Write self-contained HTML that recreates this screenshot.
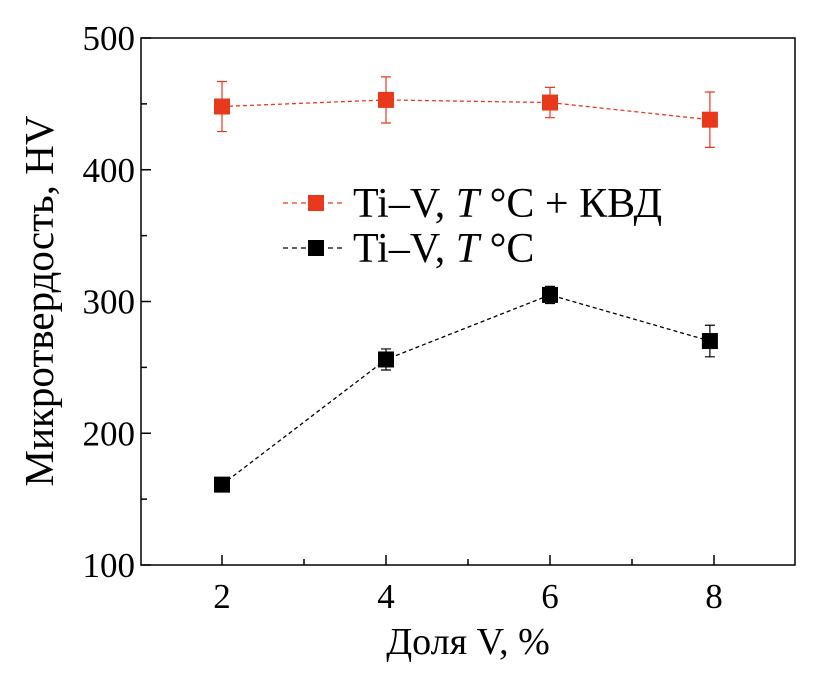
<!DOCTYPE html>
<html><head><meta charset="utf-8"><style>
html,body{margin:0;padding:0;background:#fff;}
svg{display:block;font-family:"Liberation Serif",serif;}
</style></head><body>
<svg id="chart" width="835" height="676" viewBox="0 0 835 676" xmlns="http://www.w3.org/2000/svg">
<g id="axes"></g>
<g id="series"></g>
<g id="legend">
  <line x1="283" y1="203" x2="345" y2="203" stroke="#e8391d" stroke-width="1.3" stroke-dasharray="5,4"/>
  <rect x="308" y="195" width="16" height="16" fill="#e8391d"/>
  <text x="353" y="217" font-size="42">Ti–V, <tspan font-style="italic">T</tspan> °C + КВД</text>
  <line x1="283" y1="248" x2="345" y2="248" stroke="#000" stroke-width="1.3" stroke-dasharray="5,4"/>
  <rect x="308" y="240" width="16" height="16" fill="#000"/>
  <text x="353" y="262" font-size="42">Ti–V, <tspan font-style="italic">T</tspan> °C</text>
</g>
<text x="468" y="654" font-size="38" text-anchor="middle">Доля V, %</text>
<text transform="translate(53,301) rotate(-90)" font-size="41" text-anchor="middle">Микротвердость, HV</text>
</svg>
<script>
const xs=[2,4,6,7.95];
const redVals=[448,453,451,438];
const redErr=[19,17.5,11.5,21];
const blackVals=[161,256,305,270];
const blackErr=[3,8,6.5,12];
const xTicks=[2,4,6,8];
const yTicks=[100,200,300,400,500];
const L=141,R=795,T=38,B=565;
const X=v=>140+(v-1)*82;
const Y=v=>B-(v-100)*(B-T)/400;
const NS="http://www.w3.org/2000/svg";
function mk(tag,attrs,parent){const e=document.createElementNS(NS,tag);for(const k in attrs)e.setAttribute(k,attrs[k]);parent.appendChild(e);return e;}
const ax=document.getElementById('axes');
const frame=mk('rect',{x:L,y:T,width:R-L,height:B-T,fill:'none',stroke:'#000','stroke-width':1.5},ax);


yTicks.forEach(v=>{
  const t=mk('line',{x1:L,x2:L+10,y1:Y(v),y2:Y(v),stroke:'#000','stroke-width':1.5},ax);
  
  
  if(v<500){const m=mk('line',{x1:L,x2:L+6,y1:Y(v+50),y2:Y(v+50),stroke:'#000','stroke-width':1.5},ax);
  
  }
  const tx=mk('text',{x:L-6,y:Y(v)+12,'font-size':35,'text-anchor':'end'},ax);
  
  
  tx.textContent=v;
});
xTicks.forEach(v=>{
  const t=mk('line',{x1:X(v),x2:X(v),y1:B,y2:B-10,stroke:'#000','stroke-width':1.5},ax);
  
  
  if(v<8){const m=mk('line',{x1:X(v+1),x2:X(v+1),y1:B,y2:B-6,stroke:'#000','stroke-width':1.5},ax);
  
  }
  const tx=mk('text',{x:X(v),y:B+43,'font-size':35,'text-anchor':'middle'},ax);
  
  
  tx.textContent=v;
});
const sg=document.getElementById('series');
function series(vals,errs,color,name){
  const pl=mk('polyline',{points:vals.map((v,i)=>X(xs[i])+','+Y(v)).join(' '),fill:'none',stroke:color,'stroke-width':1.3,'stroke-dasharray':'4,3'},sg);
  
  
  vals.forEach((v,i)=>{
    const x=X(xs[i]);
    const eb=mk('path',{d:`M${x},${Y(v+errs[i])}V${Y(v-errs[i])}M${x-5},${Y(v+errs[i])}h10M${x-5},${Y(v-errs[i])}h10`,stroke:color,'stroke-width':1.2,fill:'none'},sg);
    
    
    const r=mk('rect',{x:x-8,y:Y(v)-8,width:16,height:16,fill:color},sg);
    
    
  });
}
series(redVals,redErr,'#e8391d','red-series');
series(blackVals,blackErr,'#000','black-series');
</script>
</body></html>
